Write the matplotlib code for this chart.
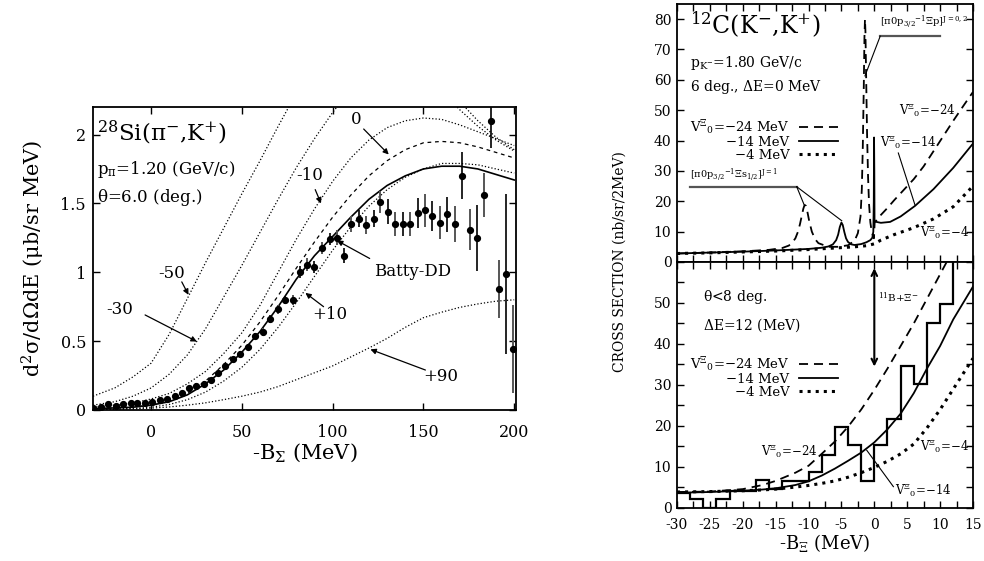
import matplotlib.pyplot as plt
from matplotlib.ticker import MultipleLocator

plt.rcParams['font.family'] = ['DejaVu Serif']
plt.rcParams['mathtext.fontset'] = 'dejavuserif'
plt.rcParams['mathtext.default'] = 'regular'
plt.rcParams['axes.unicode_minus'] = False

# ---- left : 28Si(pi-,K+) ----
x_si = [-32, -20, -10, 0, 10, 20, 30, 40, 50, 60, 70, 80, 90, 100, 110, 120, 130, 140, 150, 160, 170, 180, 190, 200]
batty_dd = [0.01, 0.015, 0.02, 0.035, 0.06, 0.11, 0.19, 0.29, 0.42, 0.57, 0.75, 0.95, 1.12, 1.26, 1.40, 1.53, 1.63, 1.70, 1.75, 1.77, 1.77, 1.75, 1.71, 1.67]
u_0 = [0.01, 0.015, 0.022, 0.037, 0.065, 0.12, 0.21, 0.33, 0.47, 0.64, 0.83, 1.03, 1.22, 1.40, 1.56, 1.70, 1.81, 1.89, 1.94, 1.95, 1.94, 1.91, 1.87, 1.83]
u_p10 = [0.005, 0.008, 0.012, 0.02, 0.04, 0.075, 0.13, 0.21, 0.31, 0.44, 0.60, 0.78, 0.97, 1.16, 1.33, 1.48, 1.60, 1.69, 1.75, 1.79, 1.79, 1.78, 1.75, 1.72]
u_m10 = [0.02, 0.035, 0.05, 0.08, 0.12, 0.19, 0.28, 0.41, 0.56, 0.76, 1.00, 1.24, 1.46, 1.66, 1.83, 1.96, 2.05, 2.10, 2.12, 2.11, 2.07, 2.02, 1.97, 1.92]
u_m30 = [0.035, 0.06, 0.10, 0.16, 0.26, 0.40, 0.59, 0.82, 1.05, 1.29, 1.53, 1.76, 1.97, 2.16, 2.33, 2.45, 2.52, 2.52, 2.48, 2.38, 2.24, 2.10, 1.98, 1.89]
u_m50 = [0.10, 0.16, 0.24, 0.34, 0.55, 0.81, 1.07, 1.32, 1.57, 1.81, 2.06, 2.30, 2.50, 2.65, 2.75, 2.78, 2.72, 2.60, 2.46, 2.32, 2.18, 2.06, 1.96, 1.88]
u_p90 = [0.003, 0.005, 0.008, 0.013, 0.022, 0.035, 0.052, 0.075, 0.10, 0.13, 0.17, 0.22, 0.27, 0.32, 0.385, 0.45, 0.52, 0.60, 0.67, 0.71, 0.745, 0.77, 0.79, 0.80]

data_x = [-31.8, -27.8, -23.6, -19.4, -15.3, -11.3, -7.5, -3.4, 0.6, 4.8, 8.8, 12.9, 16.9, 20.9,
          25, 29, 33.2, 36.9, 40.9, 45.1, 49.2, 53.4, 57.4, 61.6, 65.6, 69.9, 73.9, 78,
          81.8, 85.8, 90, 94, 98.3, 102.4, 106, 110, 114.3, 118.6, 122.6, 126.3, 130.5,
          134.6, 138.8, 142.8, 147, 150.7, 155, 159.4, 163, 167.3, 171.3, 175.4, 179.6,
          183.3, 187.3, 191.5, 195.4, 199.5]
data_y = [0.017, 0.022, 0.041, 0.029, 0.046, 0.051, 0.048, 0.053, 0.058, 0.07, 0.082, 0.10, 0.126, 0.16,
          0.175, 0.19, 0.216, 0.267, 0.32, 0.37, 0.405, 0.46, 0.54, 0.567, 0.66, 0.73, 0.80, 0.80,
          1.0, 1.055, 1.04, 1.175, 1.24, 1.25, 1.12, 1.35, 1.39, 1.34, 1.39, 1.51, 1.44,
          1.35, 1.35, 1.35, 1.43, 1.45, 1.41, 1.36, 1.42, 1.35, 1.70, 1.31, 1.25,
          1.56, 2.10, 0.88, 0.99, 0.44]
data_err = [0.012] * 14 + [0.018] * 6 + [0.022] * 3 + [0.03] * 4 + [0.035] + [0.045] * 5 + \
           [0.055] * 3 + [0.065] * 3 + [0.08] + [0.09] * 4 + [0.11, 0.12, 0.11, 0.12, 0.13, 0.13] + \
           [0.17, 0.15, 0.24, 0.16, 0.2, 0.21, 0.58, 0.32]

# ---- right top : 12C(K-,K+), dE=0 ----
xt_24 = [-30, -25, -20, -16, -14, -13, -12.5, -12, -11.6, -11.3, -11.0, -10.8, -10.6, -10.4, -10.2, -9.9,
         -9.5, -9, -8.5, -7, -5.5, -4, -3, -2.5, -2.1, -1.9, -1.75, -1.6, -1.5, -1.42, -1.35, -1.25,
         -1.1, -0.95, -0.8, -0.6, -0.4, -0.2, -0.05, 0.05, 1, 2, 3, 4.5, 6, 7.5, 9, 10.5, 12, 13.5, 15]
yt_24 = [2.8, 3.1, 3.5, 4.0, 4.6, 5.4, 6.3, 7.8, 10, 12.5, 15.5, 17.5, 18.8, 18.5, 16.8, 13.5,
         10, 7.5, 6.2, 5.0, 5.0, 5.5, 7, 9.5, 15, 24, 38, 58, 74, 80, 76, 62,
         42, 28, 19, 13, 10, 8.5, 7.8, 13, 15.5, 17.8, 20.3, 23.8, 27.3, 31.5, 36.5, 41.5, 46.5, 51.3, 56]
xt_14 = [-30, -25, -20, -15, -10, -8, -7, -6.3, -5.8, -5.5, -5.25, -5.0, -4.8, -4.55, -4.3, -4.0, -3.5,
         -3, -2, -1.2, -0.6, -0.3, -0.15, -0.08, -0.04, 0.0, 0.03, 0.1, 1, 2.4, 4, 6.2, 9, 12, 15]
yt_14 = [2.8, 3.1, 3.4, 3.8, 4.3, 4.7, 5.1, 5.8, 7.2, 9, 11.5, 13, 12.2, 9.8, 7.8, 6.6, 5.8,
         5.6, 5.9, 6.5, 7.2, 8.0, 10, 20, 41, 30, 14, 13.3, 12.9, 13.2, 15, 18.5, 24, 31, 39]
xt_4 = [-30, -25, -20, -15, -10, -6, -3, -1, 0, 1, 3, 6, 9, 12, 15]
yt_4 = [2.8, 3.0, 3.3, 3.6, 4.1, 4.6, 5.0, 5.4, 6.0, 7.2, 9.0, 11.3, 14.2, 18.2, 25]

# ---- right bottom : dE=12 MeV ----
xb = [-30, -25, -20, -17, -15, -12, -10, -8, -6, -4, -2, 0, 2, 4, 6, 8, 10, 12, 15]
yb_24 = [3.9, 4.0, 4.6, 5.6, 6.6, 8.6, 10.3, 13.2, 16.2, 19.8, 24, 28.8, 34, 39.5, 45, 51, 57, 63, 72]
yb_14 = [3.7, 3.9, 4.2, 4.5, 4.8, 5.6, 6.5, 7.9, 9.6, 11.5, 13.5, 16, 19.2, 23, 28, 34, 39.5, 46, 54]
yb_4 = [3.9, 4.0, 4.2, 4.4, 4.6, 5.1, 5.5, 6.0, 6.6, 7.5, 8.6, 9.9, 11.4, 13.2, 15.6, 19.5, 24, 29, 36.5]
hist_edges = [-30, -28, -26, -24, -22, -20, -18, -16, -14, -12, -10, -8, -6, -4, -2, 0, 2, 4, 6, 8, 10, 12, 14]
hist_vals = [3.7, 2.2, 0, 2.2, 4.2, 4.2, 6.8, 4.6, 6.5, 6.5, 8.8, 12.9, 19.8, 15.3, 6.6, 15.3, 21.7,
             34.6, 30.2, 45.2, 49.7, 65]

fig = plt.figure(figsize=(9.84, 5.61), dpi=100)

# ===================== left panel =====================
ax = fig.add_axes([0.0945, 0.2692, 0.4299, 0.5401])
dot = dict(color='black', lw=0.9, ls=':')
for yy in [u_m50, u_m30, u_m10, u_p10, u_p90]:
    ax.plot(x_si, yy, **dot)
ax.plot(x_si, u_0, color='black', lw=0.9, ls=(0, (3, 3)))
ax.plot(x_si, batty_dd, color='black', lw=1.2)
ax.errorbar(data_x[::2], data_y[::2], yerr=data_err[::2], fmt='o', color='black', ms=4.2,
            elinewidth=1.2, capsize=0)
ax.errorbar(data_x[1::2], data_y[1::2], yerr=data_err[1::2], fmt='o', color='black', ecolor='#555555',
            ms=4.2, elinewidth=1.4, capsize=0)

ax.set_xlim(-32, 201)
ax.set_ylim(0, 2.2)
ax.set_xticks([0, 50, 100, 150, 200])
ax.set_yticks([0, 0.5, 1, 1.5, 2])
ax.set_yticklabels(['0', '0.5', '1', '1.5', '2'])
ax.tick_params(direction='in', top=True, right=True, length=5, width=1, labelsize=11.5)
ax.tick_params(axis='x', pad=10)
ax.tick_params(axis='y', pad=5)
for s in ax.spines.values():
    s.set_linewidth(1.3)

ax.text(-30, 2.01, r'$^{28}$Si($\pi^{-}$,K$^{+}$)', fontsize=16.5, va='center', ha='left')
ax.text(-30, 1.745, r'p$_{\pi}$=1.20 (GeV/c)', fontsize=12, va='center', ha='left')
ax.text(-30, 1.54, r'$\theta$=6.0 (deg.)', fontsize=12, va='center', ha='left')

arw = dict(arrowstyle='-|>', color='black', lw=0.9, mutation_scale=8, shrinkA=0, shrinkB=0)
labels_si = [('0', (113, 2.11), (117.1, 2.04), (130.9, 1.855)),
             ('-10', (87.3, 1.70), (90.4, 1.60), (93.6, 1.50)),
             ('-50', (11.4, 0.994), (16.9, 0.93), (20.6, 0.836)),
             ('-30', (-17.1, 0.73), (-3.3, 0.69), (25.2, 0.497)),
             ('Batty-DD', (143.8, 1.006), (120.4, 1.10), (102.4, 1.23)),
             ('+10', (98.7, 0.69), (95, 0.75), (85, 0.85)),
             ('+90', (159.4, 0.242), (151.1, 0.29), (120.8, 0.44))]
for txt, pos, a0, a1 in labels_si:
    ax.text(pos[0], pos[1], txt, fontsize=12, ha='center', va='center')
    ax.annotate('', xy=a1, xytext=a0, arrowprops=arw)

fig.text(0.3095, 0.1925, r'-B$_{\Sigma}$ (MeV)', fontsize=15, ha='center', va='center')
fig.text(0.034, 0.54, r'd$^{2}\sigma$/d$\Omega$dE ($\mu$b/sr MeV)', fontsize=15, ha='center',
         va='center', rotation=90)

# ===================== right top =====================
axt = fig.add_axes([0.688, 0.533, 0.3008, 0.460])
l24, = axt.plot(xt_24, yt_24, color='black', lw=1.3, ls=(0, (5, 3.3)))
l14, = axt.plot(xt_14, yt_14, color='black', lw=1.3)
l4, = axt.plot(xt_4, yt_4, color='black', lw=2.2, ls=':')
axt.set_xlim(-30, 15)
axt.set_ylim(0, 85)
axt.yaxis.set_major_locator(MultipleLocator(10))
axt.xaxis.set_major_locator(MultipleLocator(5))
axt.xaxis.set_minor_locator(MultipleLocator(2.5))
axt.tick_params(which='both', direction='in', top=True, right=True, length=5, width=1,
                labelsize=10, labelbottom=False, pad=4)
for s in axt.spines.values():
    s.set_linewidth(1.3)

leg_labels = [r'V$^{\Xi}$$_{0}$=−24 MeV', '−14 MeV', '−4 MeV']
leg_kw = dict(loc='upper right', frameon=False, markerfirst=False, fontsize=9.5, handlelength=3.0,
              handletextpad=0.7, labelspacing=0.0, borderpad=0, borderaxespad=0)
axt.legend([l24, l14, l4], leg_labels, bbox_to_anchor=(0.545, 0.559), **leg_kw)

axt.text(-28, 78, r'$^{12}$C(K$^{-}$,K$^{+}$)', fontsize=17, va='center', ha='left')
axt.text(-28, 65.5, r'p$_{K^{-}}$=1.80 GeV/c', fontsize=10, va='center', ha='left')
axt.text(-28, 57.5, r'6 deg., $\Delta$E=0 MeV', fontsize=10, va='center', ha='left')

axt.text(0.8, 79, r'[$\pi$0p$_{3/2}$$^{-1}$$\Xi$p]$^{J=0,2}$', fontsize=7.2, va='center', ha='left')
axt.plot([0.9, 10], [74.4, 74.4], color='#555555', lw=1.6)
axt.plot([0.9, -1.42], [74.4, 61.3], color='black', lw=0.8)
axt.text(-28, 28.7, r'[$\pi$0p$_{3/2}$$^{-1}$$\Xi$s$_{1/2}$]$^{J=1}$', fontsize=7, va='center',
         ha='left')
axt.plot([-28, -11.8], [24.8, 24.8], color='#555555', lw=1.6)
axt.plot([-11.8, -10.7], [24.8, 19.0], color='black', lw=0.8)
axt.plot([-11.8, -4.96], [24.8, 13.6], color='black', lw=0.8)

axt.text(12.4, 50, r'V$^{\Xi}$$_{0}$=−24', fontsize=8.5, va='center', ha='right')
axt.text(0.9, 39.6, r'V$^{\Xi}$$_{0}$=−14', fontsize=8.5, va='center', ha='left')
axt.plot([3.65, 6.18], [35.9, 18.8], color='black', lw=0.8)
axt.text(10.7, 9.8, r'V$^{\Xi}$$_{0}$=−4', fontsize=8.5, va='center', ha='center')

# ===================== right bottom =====================
axb = fig.add_axes([0.688, 0.0945, 0.3008, 0.4385])
b24, = axb.plot(xb, yb_24, color='black', lw=1.3, ls=(0, (5, 3.3)))
b14, = axb.plot(xb, yb_14, color='black', lw=1.3)
b4, = axb.plot(xb, yb_4, color='black', lw=2.2, ls=':')
axb.stairs(hist_vals, hist_edges, color='black', lw=1.6, baseline=None)
axb.set_xlim(-30, 15)
axb.set_ylim(0, 60)
axb.set_yticks([0, 10, 20, 30, 40, 50])
axb.yaxis.set_minor_locator(MultipleLocator(5))
axb.xaxis.set_major_locator(MultipleLocator(5))
axb.xaxis.set_minor_locator(MultipleLocator(2.5))
axb.tick_params(which='both', direction='in', top=True, right=True, length=5, width=1, labelsize=10)
axb.tick_params(axis='x', pad=7)
axb.tick_params(axis='y', pad=4)
for s in axb.spines.values():
    s.set_linewidth(1.3)

axb.legend([b24, b14, b4], leg_labels, bbox_to_anchor=(0.545, 0.623), **leg_kw)
axb.text(-26, 51.5, r'$\theta$<8 deg.', fontsize=10, va='center', ha='left')
axb.text(-26, 44.6, r'$\Delta$E=12 (MeV)', fontsize=10, va='center', ha='left')
axb.annotate('', xy=(0, 58.5), xytext=(0, 34.5),
             arrowprops=dict(arrowstyle='<->', color='black', lw=1.5, shrinkA=0, shrinkB=0))
axb.text(0.5, 51.2, r'$^{11}$B+$\Xi^{-}$', fontsize=7.5, va='center', ha='left')
axb.text(-8.6, 13.9, r'V$^{\Xi}$$_{0}$=−24', fontsize=8.5, va='center', ha='right')
axb.text(10.7, 15.1, r'V$^{\Xi}$$_{0}$=−4', fontsize=8.5, va='center', ha='center')
axb.text(3.1, 4.4, r'V$^{\Xi}$$_{0}$=−14', fontsize=8.5, va='center', ha='left')
axb.plot([2.9, -1.16], [5.2, 14.1], color='black', lw=0.8)

fig.text(0.8384, 0.032, r'-B$_{\Xi}$ (MeV)', fontsize=13, ha='center', va='center')
fig.text(0.630, 0.533, 'CROSS SECTION (nb/sr/2MeV)', fontsize=10, ha='center', va='center',
         rotation=90)

fig.savefig('out.png', dpi=100)
